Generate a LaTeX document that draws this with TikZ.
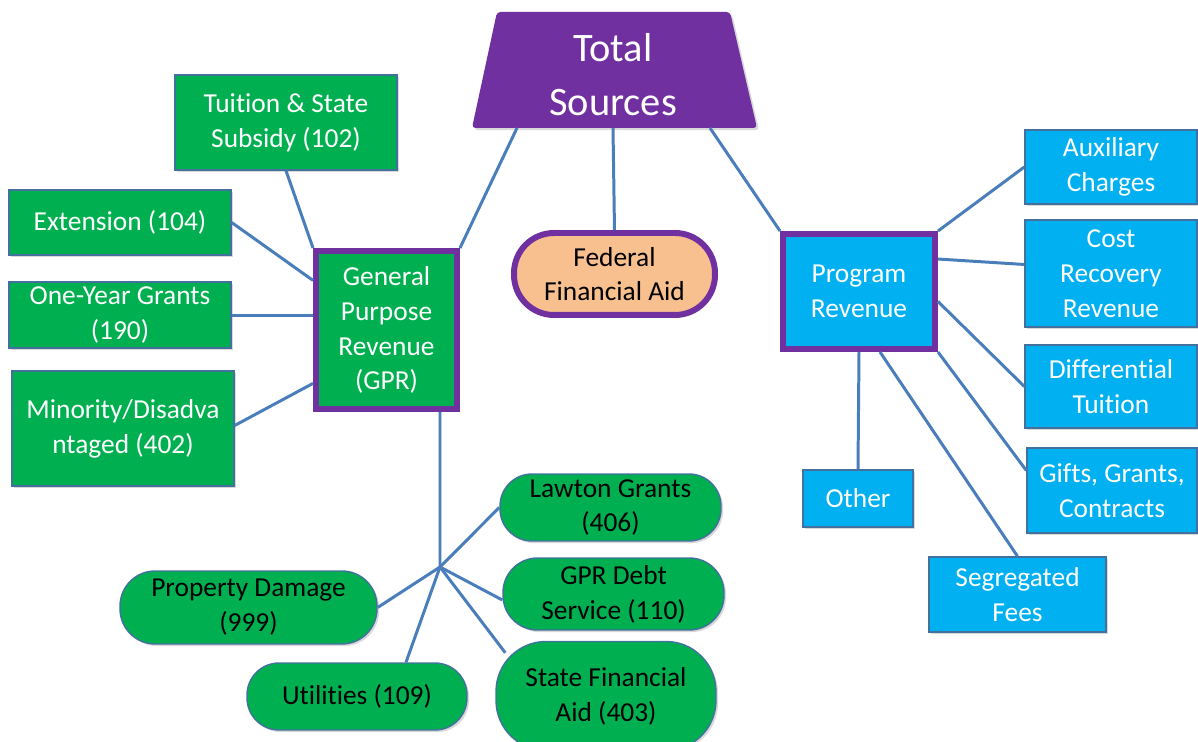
\documentclass[tikz,border=0pt]{standalone}
\usepackage{fontspec}
\setmainfont{Carlito}[Ligatures={NoCommon}]
\usetikzlibrary{calc,shadows}
\definecolor{gfill}{HTML}{00B050}
\definecolor{cfill}{HTML}{00B0F0}
\definecolor{pfill}{HTML}{7030A0}
\definecolor{peach}{HTML}{F8BF8F}
\definecolor{bord}{HTML}{41719C}
\definecolor{lnk}{HTML}{4A7EBB}
\begin{document}
\begin{tikzpicture}[x=0.02cm,y=-0.02cm,
  base/.style={inner sep=0pt, align=center, font=\fontsize{15.6}{19.8}\selectfont,
    drop shadow={opacity=0.3,shadow xshift=1.2pt,shadow yshift=-1.2pt}},
  sz/.style 2 args={minimum width=#1, minimum height=#2},
  gbox/.style={base, fill=gfill, draw=bord, line width=0.8pt, text=white},
  gpill/.style={base, fill=gfill, draw=bord, line width=0.8pt, text=black, rounded corners=#1},
  gpill/.default=0.64cm,
  cbox/.style={base, fill=cfill, draw=bord, line width=0.8pt, text=white},
  hubbox/.style={base, draw=pfill, line width=3.4pt},
  link/.style={draw=lnk, line width=1.7pt}
]
\useasboundingbox (0,0) rectangle (1198,742);

% Total Sources trapezoid
\fill[pfill, rounded corners=2pt, drop shadow={opacity=0.3,shadow xshift=1.2pt,shadow yshift=-1.2pt}]
  (497,12) -- (730,12) -- (757,128) -- (472,128) -- cycle;
\node[inner sep=0pt, align=center, text=white, font=\fontsize{23}{30.6}\selectfont] (total) at (613,75) {Total\\Sources};
\coordinate (t1) at (517,128);
\coordinate (t2) at (613,128);
\coordinate (t3) at (710,128);

% left green boxes
\node[gbox, sz={4.44cm}{1.9cm}] (tuition) at (286,122.5) {Tuition \& State\\Subsidy (102)};
\node[gbox, sz={4.44cm}{1.3cm}] (ext) at (120,222.5) {Extension (104)};
\node[gbox, sz={4.44cm}{1.32cm}] (oneyear) at (120,315) {One-Year Grants\\(190)};
\node[gbox, sz={4.44cm}{2.3cm}] (minority) at (123,428.5) {Minority/Disadva\\ntaged (402)};

% hubs
\node[hubbox, fill=gfill, text=white, sz={2.82cm}{3.16cm}] (gpr) at (386.5,330) {General\\Purpose\\Revenue\\(GPR)};
\node[hubbox, fill=peach, text=black, rounded corners=0.8cm, sz={4.02cm}{1.64cm}] (federal) at (614.5,274) {Federal\\Financial Aid};
\node[hubbox, fill=cfill, text=white, sz={3.04cm}{2.3cm}] (program) at (859,291.5) {Program\\Revenue};

% right cyan boxes
\node[cbox, sz={3.44cm}{1.48cm}] (aux) at (1111,167) {Auxiliary\\Charges};
\node[cbox, sz={3.44cm}{2.14cm}] (cost) at (1111,273.5) {Cost\\Recovery\\Revenue};
\node[cbox, sz={3.44cm}{1.66cm}] (diff) at (1111,386.5) {Differential\\Tuition};
\node[cbox, sz={3.4cm}{1.7cm}] (gifts) at (1112,490.5) {Gifts, Grants,\\Contracts};
\node[cbox, sz={2.2cm}{1.14cm}] (other) at (858,498.5) {Other};
\node[cbox, sz={3.54cm}{1.5cm}] (segr) at (1017.5,594.5) {Segregated\\Fees};

% bottom green pills
\node[gpill=0.64cm, sz={4.42cm}{1.34cm}] (lawton) at (610.5,507.5) {Lawton Grants\\(406)};
\node[gpill=0.69cm, sz={4.42cm}{1.44cm}] (debt) at (613.5,594) {GPR Debt\\Service (110)};
\node[gpill=1.0cm, sz={4.4cm}{2.18cm}] (state) at (606,696) {State Financial\\Aid (403)};
\node[gpill=0.7cm, sz={5.14cm}{1.46cm}] (property) at (248.5,607.5) {Property Damage\\(999)};
\node[gpill=0.64cm, sz={4.4cm}{1.34cm}] (util) at (357,696.5) {Utilities (109)};

\coordinate (hub) at (440,567);

% connectors
\draw[link] (t1) -- (gpr.north east);
\draw[link] (t2) -- (federal.north);
\draw[link] (t3) -- (program.north west);

\draw[link] (tuition.south) -- (gpr.north west);
\draw[link] (ext.east) -- (gpr.146);
\draw[link] ($(oneyear.east)+(0,1)$) -- ($(oneyear.east -| gpr.west)+(0,1)$);
\draw[link] ($(minority.east)+(0,-3)$) -- (gpr.216);

\draw[link] ($(gpr.south)+(53.5,0)$) -- (hub);
\draw[link] (hub) -- (lawton.west);
\draw[link] (hub) -- (property.east);
\draw[link] (hub) -- ($(util.north)+(49,0)$);
\draw[link] (hub) -- ($(debt.west)+(0,6)$);
\draw[link] (hub) -- ($(state.north west)+(10,12)$);

\draw[link] (program.north east) -- (aux.west);
\draw[link] ($(program.north east)+(0,28)$) -- ($(cost.west)+(0,-9)$);
\draw[link] ($(program.east)+(0,10)$) -- (diff.west);
\draw[link] (program.south east) -- ($(gifts.west)+(0,-20)$);
\draw[link] (program.south) -- (other.north);
\draw[link] ($(program.south)+(21,0)$) -- (segr.north);
\end{tikzpicture}
\end{document}
